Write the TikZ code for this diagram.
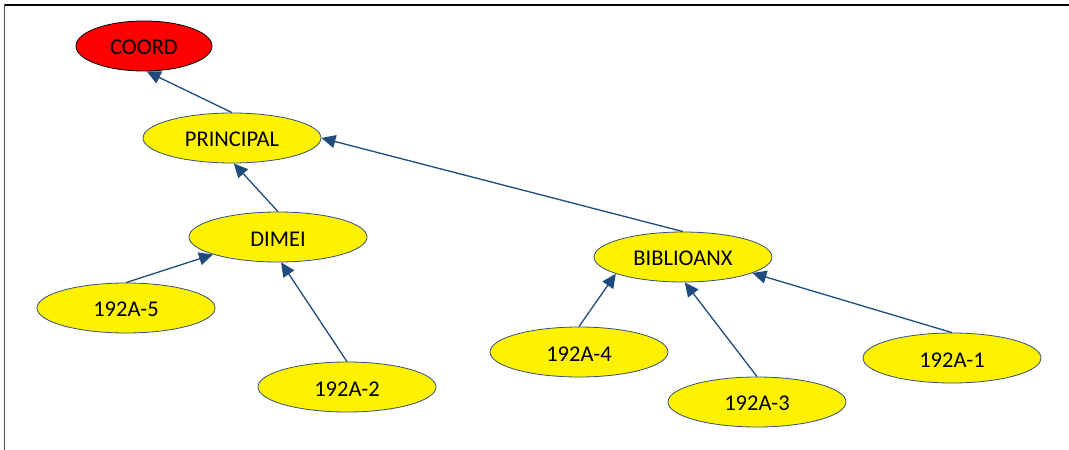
\documentclass[tikz,border=0pt]{standalone}
\usepackage{fontspec}
\setmainfont{Carlito}
\usetikzlibrary{shapes.geometric,arrows.meta}
\definecolor{edgeblue}{RGB}{31,75,125}
\definecolor{rimblue}{RGB}{50,80,120}
\tikzset{
  ell/.style={ellipse, draw=rimblue, line width=0.8pt, fill=yellow, minimum width=178pt, minimum height=50pt, inner sep=0pt, text height=18pt, font=\fontsize{22.5}{26}\selectfont},
  rootell/.style={ellipse, draw=black, line width=0.8pt, fill=red, minimum width=136pt, minimum height=50pt, inner sep=0pt, text height=18pt, font=\fontsize{22.5}{26}\selectfont},
  edge/.style={draw=edgeblue, line width=1.3pt, -{Triangle[length=14pt,width=13pt]}}
}
\begin{document}
\begin{tikzpicture}[x=1pt,y=-1pt]
\useasboundingbox (0,0) rectangle (1069,450);
\draw[black, line width=2pt] (4,5) -- (1069,5);
\draw[black!70, line width=1.8pt] (4.5,4) -- (4.5,450);
\node[rootell] (c) at (144,46) {COORD};
\node[ell] (p) at (232,138) {PRINCIPAL};
\node[ell] (d) at (278,237) {DIMEI};
\node[ell] (b) at (683,257) {BIBLIOANX};
\node[ell] (n5) at (126,308) {192A-5};
\node[ell] (n2) at (347,387) {192A-2};
\node[ell] (n4) at (579,352) {192A-4};
\node[ell] (n3) at (757,402) {192A-3};
\node[ell] (n1) at (952,358) {192A-1};
\draw[edge] (p.north) -- (c.276);
\draw[edge] (d.north) -- (p.274);
\draw[edge] (b.north) -- (p.0);
\draw[edge] (n5.north) -- (d.195);
\draw[edge] (n2.north) -- (d.277);
\draw[edge] (n4.north) -- (b.194);
\draw[edge] (n3.north) -- (b.274);
\draw[edge] (n1.north) -- (b.-13);
\end{tikzpicture}
\end{document}
